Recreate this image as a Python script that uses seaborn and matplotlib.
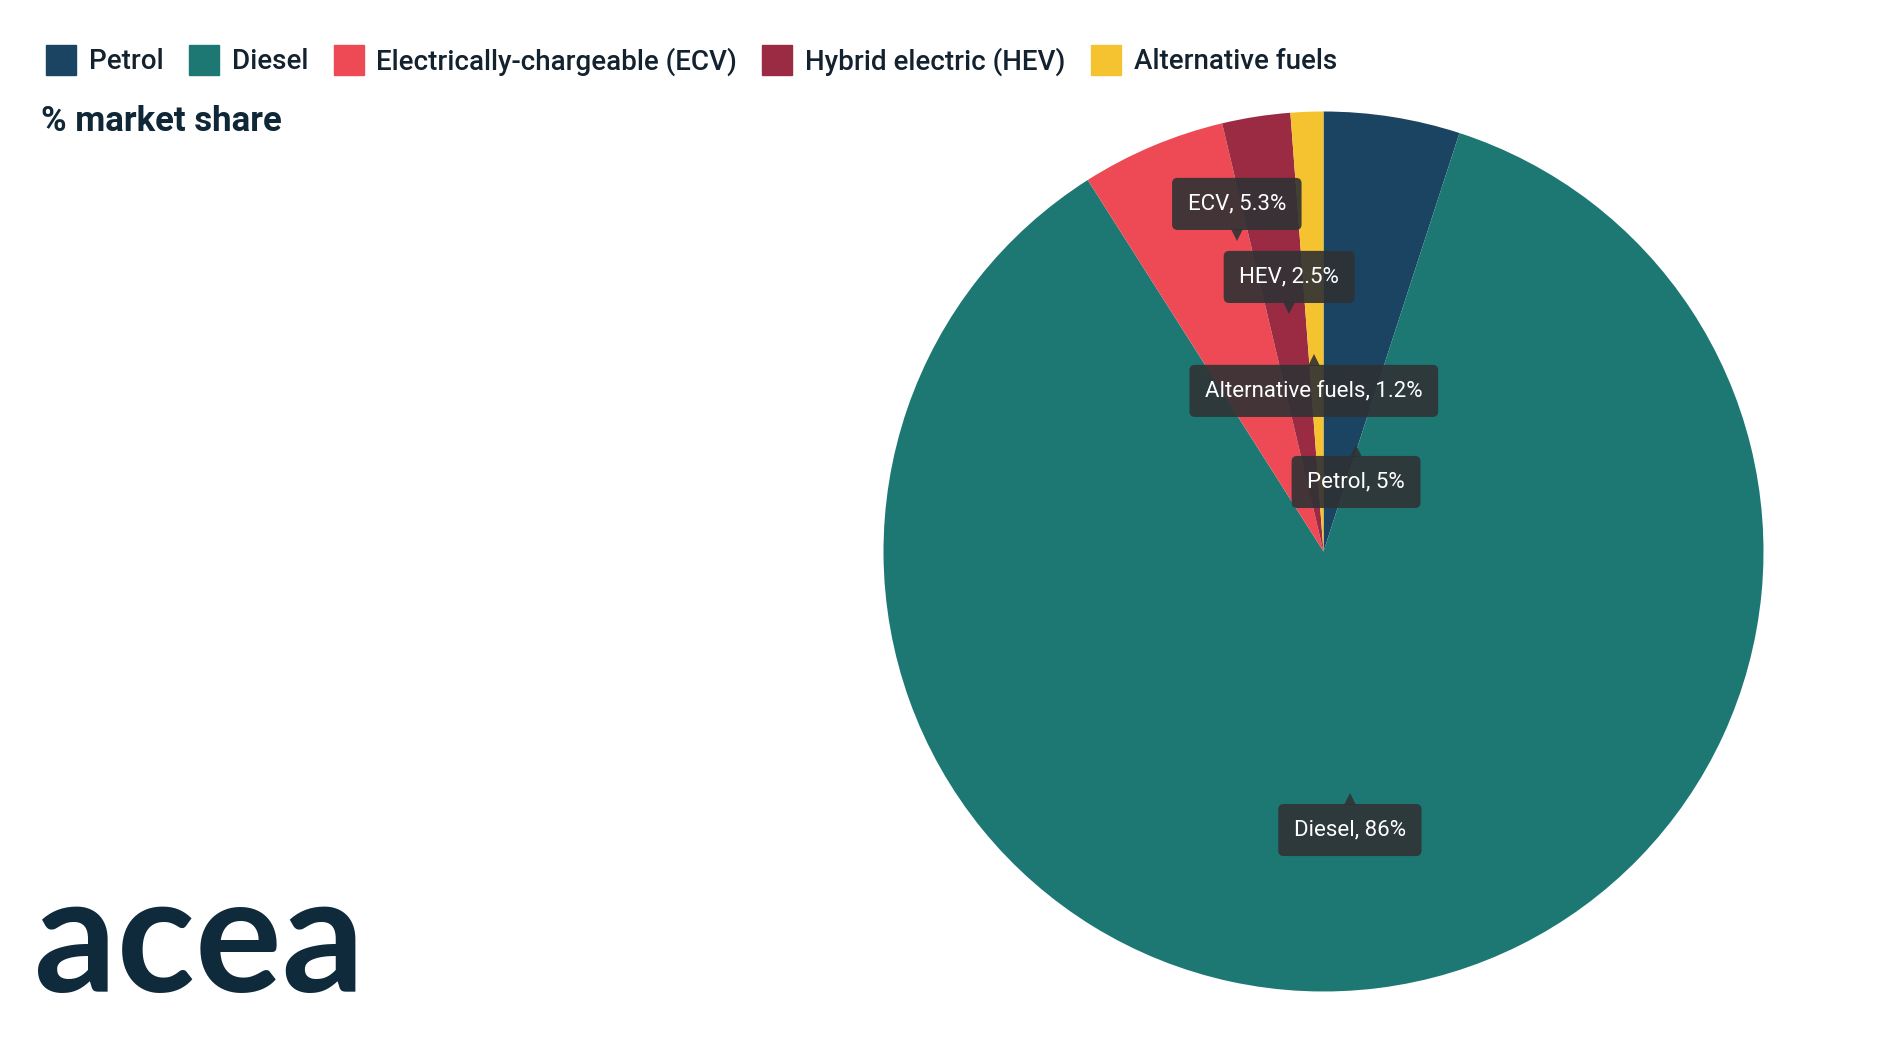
import matplotlib
matplotlib.use("Agg")
import matplotlib.pyplot as plt
import matplotlib.transforms as mtransforms
from matplotlib.lines import Line2D
import seaborn as sns

# ---- data ----
categories = ["Petrol", "Diesel", "Electrically-chargeable (ECV)", "Hybrid electric (HEV)", "Alternative fuels"]
short_names = ["Petrol", "Diesel", "ECV", "HEV", "Alternative fuels"]
shares = [5, 86, 5.3, 2.5, 1.2]
share_labels = ["5%", "86%", "5.3%", "2.5%", "1.2%"]
colors = ["#1b4462", "#1d7874", "#ee4a55", "#9b2b42", "#f6c330"]

# tooltip positions (axes data coords) and pointer direction
label_pos = [(0.074, 0.158), (0.060, -0.633), (-0.197, 0.790), (-0.078, 0.624), (-0.022, 0.365)]
pointer_up = [True, True, False, False, True]

sns.set_theme(style="white")
plt.rcParams["font.family"] = ["Roboto", "DejaVu Sans"]

W, H = 1880, 1060
fig = plt.figure(figsize=(W / 100, H / 100), dpi=100)
fig.patch.set_facecolor("white")

cx, cy, R = 1323.5, 551.5, 440
ax = fig.add_axes([(cx - R) / W, (H - cy - R) / H, 2 * R / W, 2 * R / H])
ax.pie(shares, colors=colors, startangle=90, counterclock=False, radius=1,
       wedgeprops=dict(linewidth=0))
ax.set_xlim(-1, 1)
ax.set_ylim(-1, 1)
ax.set_aspect("equal")
ax.axis("off")

box_color = "#2f3234"
for name, lab, (x, y), up in zip(short_names, share_labels, label_pos, pointer_up):
    ax.text(x, y, f"{name}, {lab}", ha="center", va="center", color="white",
            fontsize=16, zorder=5,
            bbox=dict(boxstyle="round,pad=0.7,rounding_size=0.25", fc=box_color,
                      ec="none", alpha=0.9))
    off = 31 if up else -31
    tr = mtransforms.offset_copy(ax.transData, fig=fig, x=0, y=off, units="dots")
    ax.plot([x], [y], marker="^" if up else "v", markersize=9, color=box_color,
            alpha=0.9, transform=tr, zorder=4, markeredgewidth=0)

# legend
text_color = "#13222e"
handles = [Line2D([0], [0], marker="s", linestyle="none", markersize=21,
                  markerfacecolor=c, markeredgecolor=c) for c in colors]
leg = fig.legend(handles, categories, loc="upper left", bbox_to_anchor=(0.012, 0.979),
                 ncol=5, frameon=False, handlelength=1.0,
                 handletextpad=0.5, columnspacing=0.95, labelcolor=text_color,
                 prop=dict(family=["Roboto", "DejaVu Sans"], size=20, weight="medium"))

fig.text(0.022, 0.885, "% market share", fontsize=25, fontweight="bold",
         color="#0f2736", ha="left", va="center")

# logo text
fig.text(0.018, 0.064, "acea", fontsize=117, color="#0e2a3b", ha="left",
         va="baseline", fontweight="bold", family=["Lato", "DejaVu Sans"])

fig.savefig("out.png", dpi=100, facecolor="white")
